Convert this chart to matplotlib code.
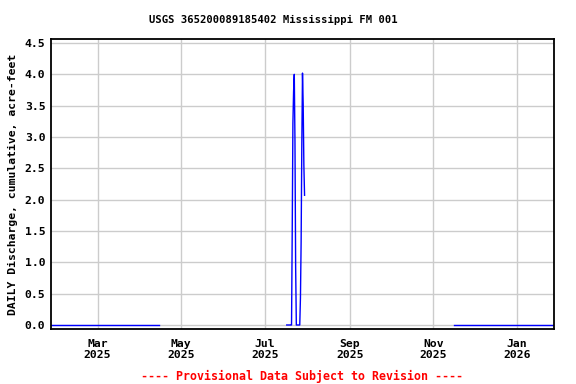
import numpy as np
import pandas as pd
import matplotlib
matplotlib.use('Agg')
import matplotlib.pyplot as plt
import matplotlib.dates as mdates

plt.rcParams['font.family'] = 'DejaVu Sans Mono'
plt.rcParams['font.weight'] = 'bold'
plt.rcParams['axes.titleweight'] = 'bold'
plt.rcParams['axes.labelweight'] = 'bold'

# zero-valued stretches
seg1_dates = ['2025-01-26', '2025-04-15']
seg1_vals = [0.0, 0.0]
seg3_dates = ['2025-11-16', '2026-01-27']
seg3_vals = [0.0, 0.0]

# the July event (12-hour readings)
spike_start = '2025-07-17 00:00'
spike_vals = [0, 0, 0, 0, 0, 0, 0, 0,
              1.49, 3.22, 3.73, 4.00, 2.94, 0.93,
              0, 0, 0, 0, 0, 0,
              0.43, 1.33, 2.88, 4.02, 3.52, 2.55, 2.07]

yticks = [0.0, 0.5, 1.0, 1.5, 2.0, 2.5, 3.0, 3.5, 4.0, 4.5]
xticks = ['2025-03-01', '2025-05-01', '2025-07-01', '2025-09-01',
          '2025-11-01', '2026-01-01']
xlabels = ['Mar\n2025', 'May\n2025', 'Jul\n2025', 'Sep\n2025',
           'Nov\n2025', 'Jan\n2026']

spike_dates = pd.date_range(spike_start, periods=len(spike_vals), freq='12h')

fig = plt.figure(figsize=(5.76, 3.84), dpi=100)
ax = fig.add_axes([51/576, 1 - 329/384, (554 - 51)/576, (329 - 39)/384])

ax.plot(pd.to_datetime(seg1_dates), seg1_vals, color='#0000ff', lw=1)
ax.plot(spike_dates, spike_vals, color='#0000ff', lw=1)
ax.plot(pd.to_datetime(seg3_dates), seg3_vals, color='#0000ff', lw=1)

ax.set_xlim(pd.Timestamp('2025-01-26'), pd.Timestamp('2026-01-28'))
ax.set_ylim(-0.064, 4.564)
ax.set_yticks(yticks)
ax.set_yticklabels(['%.1f' % v for v in yticks])
ax.set_xticks(pd.to_datetime(xticks))
ax.set_xticklabels(xlabels)
ax.tick_params(length=0, labelsize=8.2, pad=4)
ax.tick_params(axis='x', pad=7)
ax.grid(True, color='#cccccc', lw=1)
ax.set_axisbelow(True)
for s in ax.spines.values():
    s.set_linewidth(1.3)

ax.set_ylabel('DAILY Discharge, cumulative, acre-feet', fontsize=8.2, labelpad=5)
fig.text(273/576, 1 - 20/384, 'USGS 365200089185402 Mississippi FM 001',
         fontsize=7.6, ha='center', va='center')
fig.text(302/576, 1 - 376/384, '---- Provisional Data Subject to Revision ----',
         color='red', fontsize=8.4, ha='center', va='center')

plt.savefig('out.png', dpi=100)
